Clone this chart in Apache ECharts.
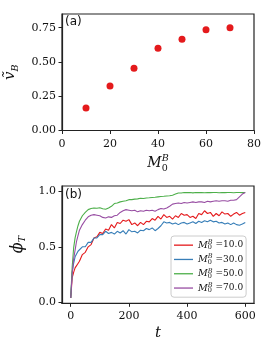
<!DOCTYPE html>
<html><head><meta charset="utf-8">
<script src="https://cdn.jsdelivr.net/npm/echarts@6/dist/echarts.min.js"></script>
<style>html,body{margin:0;padding:0;background:#fff}#c{width:271px;height:343px}</style>
</head><body><div id="c"></div>
<script>
// ---- Panel (a) data ----
const massVals = [10, 20, 30, 40, 50, 60, 70];
const speedVals = [0.165, 0.325, 0.455, 0.600, 0.665, 0.735, 0.750];
const xTicksA = [0, 20, 40, 60, 80];
const yTicksA = [0, 0.25, 0.5, 0.75];

// ---- Panel (b) data ----
const tVals = [0,5,10,15,20,25,30,40,50,60,70,80,90,100,110,120,130,140,150,160,170,180,190,200,210,220,230,240,250,260,270,280,290,300,310,320,330,340,350,360,370,380,390,400,410,420,430,440,450,460,470,480,490,500,510,520,530,540,550,560,570,580,590,600];
const phi10 = [0.04,0.22,0.27,0.31,0.30,0.35,0.37,0.43,0.45,0.50,
  0.52,0.58,0.59,0.63,0.62,0.66,0.65,0.70,0.67,0.72,
  0.71,0.74,0.73,0.745,0.70,0.715,0.69,0.72,0.70,0.73,
  0.725,0.755,0.74,0.775,0.75,0.79,0.765,0.775,0.75,0.78,
  0.765,0.80,0.785,0.79,0.765,0.775,0.755,0.80,0.79,0.825,
  0.80,0.81,0.775,0.80,0.78,0.815,0.795,0.80,0.775,0.795,
  0.81,0.785,0.80,0.81];
const phi30 = [0.04,0.27,0.35,0.41,0.42,0.46,0.46,0.50,0.50,0.54,
  0.54,0.58,0.58,0.61,0.61,0.64,0.62,0.63,0.615,0.64,
  0.625,0.645,0.615,0.655,0.635,0.64,0.625,0.65,0.645,0.665,
  0.655,0.67,0.645,0.665,0.69,0.725,0.715,0.72,0.705,0.715,
  0.70,0.715,0.72,0.705,0.715,0.725,0.71,0.73,0.72,0.735,
  0.725,0.74,0.725,0.73,0.715,0.72,0.705,0.715,0.70,0.715,
  0.70,0.695,0.705,0.72];
const phi50 = [0.04,0.32,0.49,0.58,0.64,0.69,0.73,0.78,0.81,0.835,
  0.845,0.85,0.848,0.852,0.843,0.838,0.85,0.865,0.89,0.895,
  0.905,0.91,0.915,0.925,0.925,0.93,0.932,0.938,0.935,0.94,
  0.942,0.945,0.947,0.95,0.953,0.955,0.958,0.96,0.965,0.975,
  0.985,0.985,0.99,0.988,0.99,0.986,0.99,0.988,0.99,0.987,
  0.99,0.988,0.99,0.99,0.987,0.99,0.988,0.99,0.99,0.987,
  0.99,0.99,0.988,0.99];
const phi70 = [0.04,0.26,0.39,0.47,0.55,0.60,0.65,0.70,0.74,0.77,
  0.785,0.79,0.785,0.78,0.765,0.76,0.77,0.765,0.78,0.785,
  0.81,0.825,0.835,0.83,0.825,0.83,0.815,0.825,0.82,0.83,
  0.825,0.83,0.82,0.835,0.845,0.84,0.85,0.865,0.885,0.89,
  0.895,0.89,0.90,0.895,0.90,0.905,0.90,0.905,0.905,0.90,
  0.91,0.905,0.91,0.915,0.91,0.915,0.915,0.91,0.92,0.92,
  0.925,0.95,0.975,0.99];
const seriesNames = ['10.0', '30.0', '50.0', '70.0'];
const seriesVals = [phi10, phi30, phi50, phi70];
const seriesColors = ['#e41a1c', '#377eb8', '#4daf4a', '#984ea3'];
const xTicksB = [0, 200, 400, 600];
const yTicksB = [0, 0.5, 1.0];

const SERIF = 'DejaVu Serif';
const axisCommon = {
  axisLine: {show: true, onZero: false, lineStyle: {color: '#222', width: 1.2}},
  axisTick: {show: true, inside: false, length: 3.5, lineStyle: {color: '#222', width: 1}},
  axisLabel: {color: '#111', fontFamily: SERIF, fontSize: 11},
  splitLine: {show: false}
};
function ax(extra) {
  const o = JSON.parse(JSON.stringify(axisCommon));
  for (const k in extra) {
    if (typeof extra[k] === 'object' && !Array.isArray(extra[k]) && o[k]) Object.assign(o[k], extra[k]);
    else o[k] = extra[k];
  }
  return o;
}
const richM = {
  m: {fontFamily: SERIF, fontStyle: 'italic', fontSize: 14, lineHeight: 20, verticalAlign: 'middle', color: '#111'},
  s0: {fontFamily: SERIF, fontSize: 9.5, verticalAlign: 'bottom', color: '#111'},
  sB: {fontFamily: SERIF, fontStyle: 'italic', fontSize: 9.5, verticalAlign: 'top', padding: [0, 0, 0, -6.0], color: '#111'}
};
const richLeg = {
  m: {fontFamily: SERIF, fontStyle: 'italic', fontSize: 9.5, lineHeight: 12.3, verticalAlign: 'middle', color: '#111'},
  s0: {fontFamily: SERIF, fontSize: 6.5, verticalAlign: 'bottom', color: '#111'},
  sB: {fontFamily: SERIF, fontStyle: 'italic', fontSize: 6.5, verticalAlign: 'top', padding: [0, 0, 0, -4.1], color: '#111'},
  e: {fontFamily: SERIF, fontSize: 9, verticalAlign: 'middle', color: '#111', padding: [0, 0, 0, 3]}
};

const chart = echarts.init(document.getElementById('c'), null, {renderer: 'canvas'});
chart.setOption({
  backgroundColor: '#fff',
  animation: false,
  grid: [
    {left: 62, right: 17, top: 14, height: 116.5, show: true, borderColor: '#222', borderWidth: 1.2, containLabel: false, outerBoundsMode: 'none'},
    {left: 62, right: 17, top: 186, height: 117.3, show: true, borderColor: '#222', borderWidth: 1.2, containLabel: false, outerBoundsMode: 'none'}
  ],
  xAxis: [
    ax({gridIndex: 0, type: 'value', min: 0, max: 80,
      axisTick: {customValues: xTicksA}, axisLabel: {customValues: xTicksA, margin: 8},
      name: '{m|M}{s0|0}{sB|B}', nameLocation: 'middle', nameGap: 23,
      nameTextStyle: {rich: richM}}),
    ax({gridIndex: 1, type: 'value', min: -30, max: 630,
      axisTick: {customValues: xTicksB}, axisLabel: {customValues: xTicksB, margin: 7},
      name: 't', nameLocation: 'middle', nameGap: 22,
      nameTextStyle: {fontFamily: SERIF, fontStyle: 'italic', fontSize: 15, color: '#111'}})
  ],
  yAxis: [
    ax({gridIndex: 0, type: 'value', min: 0, max: 0.85,
      axisTick: {customValues: yTicksA},
      axisLabel: {customValues: yTicksA, margin: 6, formatter: v => v.toFixed(2)},
      name: '{v|ṽ}{s|B}', nameLocation: 'middle', nameGap: 36, nameRotate: 90,
      nameTextStyle: {rich: {
        v: {fontFamily: SERIF, fontStyle: 'italic', fontSize: 15, lineHeight: 20, verticalAlign: 'middle', color: '#111'},
        s: {fontFamily: SERIF, fontStyle: 'italic', fontSize: 9.5, verticalAlign: 'bottom', color: '#111'}
      }}}),
    ax({gridIndex: 1, type: 'value', min: -0.009, max: 1.048,
      axisTick: {customValues: yTicksB},
      axisLabel: {customValues: yTicksB, margin: 6, formatter: v => v.toFixed(1)},
      name: '{p|ϕ}{s|T}', nameLocation: 'middle', nameGap: 27, nameRotate: 90,
      nameTextStyle: {rich: {
        p: {fontFamily: SERIF, fontStyle: 'italic', fontSize: 16, lineHeight: 20, verticalAlign: 'middle', color: '#111'},
        s: {fontFamily: SERIF, fontStyle: 'italic', fontSize: 9.5, verticalAlign: 'bottom', color: '#111'}
      }}})
  ],
  legend: {
    show: true, orient: 'vertical', left: 171, top: 236,
    data: seriesNames.map(n => ({name: n, icon: 'rect'})),
    itemWidth: 19, itemHeight: 1.3, itemGap: 2,
    padding: [3, 3, 3, 3],
    backgroundColor: 'rgba(255,255,255,0.85)', borderColor: '#ccc', borderWidth: 1, borderRadius: 3,
    formatter: n => '{m|M}{s0|0}{sB|B}{e|=' + n + '}',
    textStyle: {rich: richLeg}
  },
  graphic: [
    {type: 'text', left: 65, top: 16, z: 100, style: {text: '(a)', font: '12px "DejaVu Sans"', fill: '#111'}},
    {type: 'text', left: 65, top: 189, z: 100, style: {text: '(b)', font: '12px "DejaVu Sans"', fill: '#111'}}
  ],
  series: [
    {type: 'scatter', xAxisIndex: 0, yAxisIndex: 0, symbolSize: 7,
      itemStyle: {color: '#e41a1c', opacity: 1},
      data: massVals.map((m, i) => [m, speedVals[i]])},
    ...seriesNames.map((n, k) => ({
      type: 'line', name: n, xAxisIndex: 1, yAxisIndex: 1, symbol: 'none',
      lineStyle: {width: 1.1, color: seriesColors[k]}, itemStyle: {color: seriesColors[k]},
      data: tVals.map((t, i) => [t, seriesVals[k][i]])
    }))
  ]
});
</script></body></html>
